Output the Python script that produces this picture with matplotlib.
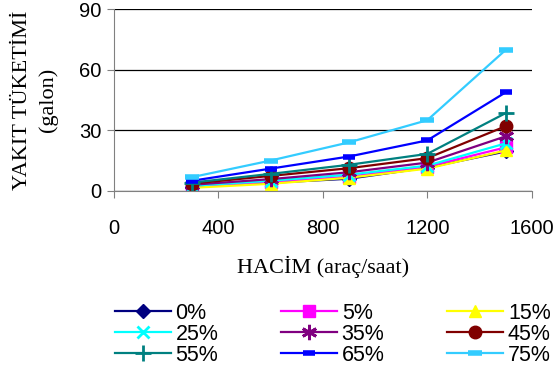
import matplotlib.pyplot as plt

# traffic volume (vehicles/hour) and fuel consumption (gallons) per share
hacim = [300, 600, 900, 1200, 1500]
labels = ['0%', '5%', '15%', '25%', '35%', '45%', '55%', '65%', '75%']
yakit = [
    [2.0, 4.0, 6.0, 11.5, 19.5],
    [2.0, 4.5, 7.0, 12.0, 21.5],
    [1.5, 3.5, 6.5, 11.0, 20.0],
    [2.5, 5.0, 8.0, 12.5, 23.5],
    [3.0, 5.8, 9.2, 14.0, 27.0],
    [3.6, 7.4, 11.2, 16.2, 32.0],
    [4.1, 8.4, 12.9, 18.3, 38.5],
    [5.0, 11.0, 17.0, 25.0, 48.8],
    [6.8, 15.0, 24.0, 35.0, 69.8],
]

colors = ['#000080', '#FF00FF', '#FFFF00', '#00FFFF', '#800080',
          '#800000', '#008080', '#0000FF', '#33CCFF']
markers = ['D', 's', '^', 'x', (6, 2, 0), 'o', '+', '_', '_']
msizes = [7, 8, 9, 9, 11, 9, 12, 8, 10]

plt.rcParams['font.family'] = ['Liberation Sans', 'DejaVu Sans']

fig = plt.figure(figsize=(5.58, 3.67), dpi=100)
ax = fig.add_axes([0.204, 0.48, 0.749, 0.495])

lines = []
for vals, lab, c, m, ms in zip(yakit, labels, colors, markers, msizes):
    mew = 1 if m in ('D', 's', '^', 'o') else 2
    if m == '_':
        mew = 4
    ln, = ax.plot(hacim, vals, color=c, lw=1.6, marker=m, ms=ms, mew=mew,
                  mec=c, mfc=c, label=lab)
    lines.append(ln)

ax.set_xlim(0, 1600)
ax.set_ylim(0, 90)
ax.set_xticks([0, 400, 800, 1200, 1600])
ax.set_yticks([0, 30, 60, 90])
ax.yaxis.grid(True, color='black', lw=0.9)
ax.set_axisbelow(True)
for s in ('top', 'right'):
    ax.spines[s].set_visible(False)
for s in ('left', 'bottom'):
    ax.spines[s].set_color('#808080')
ax.tick_params(direction='out', length=5, color='#808080', labelsize=14.5,
               pad=4)
ax.tick_params(axis='x', pad=15)

ax.set_xlabel('HACİM (araç/saat)', family='Liberation Serif', fontsize=16,
              labelpad=13)
ax.set_ylabel('YAKIT TÜKETİMİ\n(galon)', family='Liberation Serif',
              fontsize=16, labelpad=15, linespacing=1.42)

# legend reads row by row, matplotlib fills column by column
order = [0, 3, 6, 1, 4, 7, 2, 5, 8]
fig.legend([lines[i] for i in order], [labels[i] for i in order],
           loc='upper left', bbox_to_anchor=(0.186, 0.204), ncol=3,
           frameon=False, fontsize=15.5, handlelength=2.6,
           columnspacing=2.9, handletextpad=0.23, labelspacing=0.0,
           borderpad=0)

fig.savefig('out.png', dpi=100)
